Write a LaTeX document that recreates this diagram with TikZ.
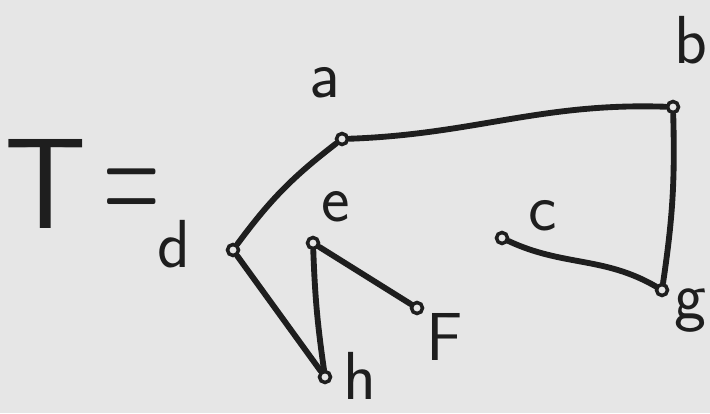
\documentclass[tikz,border=0pt]{standalone}
\usetikzlibrary{positioning}
\definecolor{paper}{HTML}{E6E6E6}
\definecolor{ink}{HTML}{1E1E1E}
\tikzset{vert/.style = {draw=ink, fill=paper, circle, inner sep=0,
                        minimum size=0.33cm, line width=3pt}}
\tikzset{lbl/.style = {text=ink, inner sep=0, anchor=base,
                       font=\sffamily\fontsize{58}{58}\selectfont}}
\tikzset{edge/.style = {draw=ink, line width=5pt, line cap=round}}

\begin{document}
\begin{tikzpicture}[x=0.03cm, y=-0.03cm]
        \fill[paper] (0,0) rectangle (710,413);
        \useasboundingbox (0,0) rectangle (710,413);
        % the tree
        \node[vert] (a) at (342,139) {};
        \node[vert] (b) at (673,107) {};
        \node[vert] (c) at (502,238) {};
        \node[vert] (d) at (233,250) {};
        \node[vert] (e) at (313,243) {};
        \node[vert] (f) at (417,308) {};
        \node[vert] (g) at (662,290) {};
        \node[vert] (h) at (325,377) {};
        \draw[edge] (d) to[bend left=8] (a);
        \draw[edge] (a) to[out=2, in=178] (b);
        \draw[edge] (b) to[bend left=5] (g);
        \draw[edge] (c) to[out=-25, in=150] (g);
        \draw[edge] (d) -- (h);
        \draw[edge] (e) to[bend right=3] (h);
        \draw[edge] (e) -- (f);
        % labels
        \node[lbl, anchor=base west] (lb) at (674,63) {b};
        \node[lbl] (la) at (325,97) {a};
        \node[lbl] (lc) at (543,230) {c};
        \node[lbl] (ld) at (174,267) {d};
        \node[lbl] (le) at (336,221) {e};
        \node[lbl, anchor=center] (lf) at (445,337) {F};
        \node[lbl] (lg) at (690,318) {g};
        \node[lbl] (lh) at (360,399) {h};
        \node[lbl, anchor=base west, font=\sffamily\fontsize{110}{110}\selectfont]
          (tree) at (4,228) {T\hspace{14pt}\scalebox{0.6}[1.3]{=}};
      \end{tikzpicture}
\end{document}
